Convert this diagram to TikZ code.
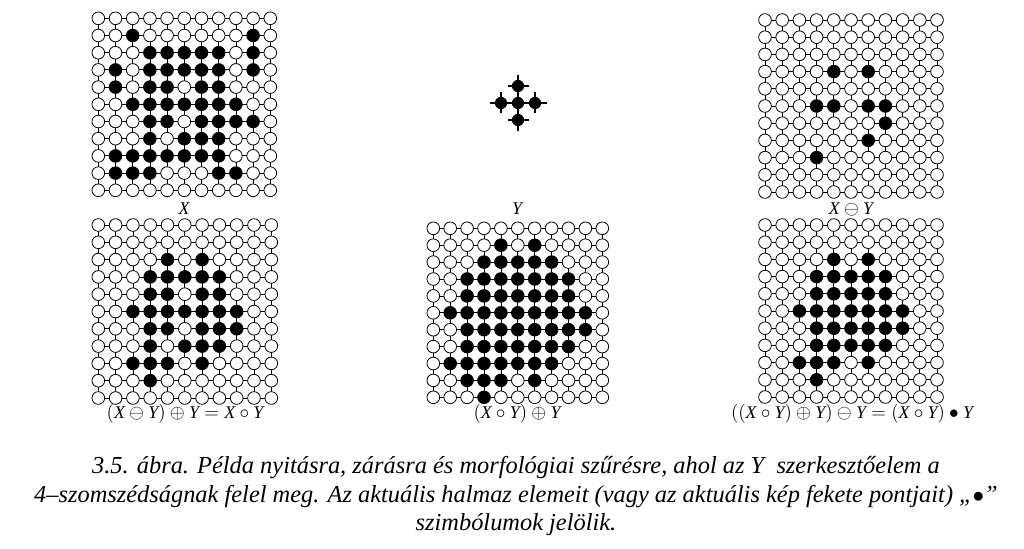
\documentclass[tikz,border=0pt]{standalone}
\usepackage{fontspec}
\setmainfont{Liberation Serif}
\usepackage{amsmath}

% 11x11 pontracs: bal felso kozeppont (#1,#2), lepes #3
\newcommand{\racs}[3]{%
  \foreach \kk in {0,...,10} {
    \draw[racsvonal] (#1,#2+\kk*#3) -- (#1+10*#3,#2+\kk*#3);
    \draw[racsvonal] (#1+\kk*#3,#2) -- (#1+\kk*#3,#2+10*#3);
  }
  \foreach \sor in {0,...,10}
    \foreach \osz in {0,...,10}
      \draw[ures] (#1+\osz*#3,#2+\sor*#3) circle (4.75pt);
}
% fekete pontok: sor/oszlop lista
\newcommand{\pontok}[4]{%
  \foreach \sor/\osz in {#4}
    \fill[teli] (#1+\osz*#3,#2+\sor*#3) circle (4.75pt);
}

\begin{document}
\begin{tikzpicture}[x=0.75pt,y=0.75pt,yscale=-1,xscale=1,
  racsvonal/.style={line width=0.6pt},
  ures/.style={draw,fill=white,line width=0.6pt},
  teli/.style={fill=black},
  elem/.style={line width=1.4pt},
  cimke/.style={font=\fontsize{13.4}{16}\selectfont,inner sep=0.75pt},
  felirat/.style={font=\fontsize{18.3}{21.5}\selectfont\itshape,align=center,inner sep=0pt}]
\path[use as bounding box] (0,0) rectangle (1024,549);

%Shape: Grid X
\racs{98.3}{18.3}{17.2}
\pontok{98.3}{18.3}{17.2}{1/2,1/9,2/3,2/4,2/5,2/6,2/7,2/9,3/1,3/3,3/4,3/5,3/6,3/7,3/9,4/1,4/3,4/4,4/6,4/7,5/2,5/3,5/4,5/5,5/6,5/7,5/8,6/3,6/4,6/6,6/7,6/8,6/9,7/3,7/5,7/6,7/7,8/1,8/2,8/3,8/4,8/5,8/6,8/7,9/1,9/2,9/3,9/7,9/8}

%Shape: Structuring element Y
\draw[elem] (518,75) -- (518,131.5) ;
\draw[elem] (490,103) -- (546.5,103) ;
\draw[elem] (507.5,86) -- (528.5,86) ;
\draw[elem] (507.5,120) -- (528.5,120) ;
\draw[elem] (501,92.5) -- (501,113.5) ;
\draw[elem] (535,92.5) -- (535,113.5) ;
\foreach \p in {(518,103),(518,86),(518,120),(501,103),(535,103)}
  \fill[teli] \p circle (4.6pt);

%Shape: Grid X erosion Y
\racs{765}{20}{17.2}
\pontok{765}{20}{17.2}{3/4,3/6,5/3,5/4,5/6,5/7,6/7,7/6,8/3}

%Shape: Grid opening
\racs{98.3}{225}{17.3}
\pontok{98.3}{225}{17.3}{2/4,2/6,3/3,3/4,3/5,3/6,3/7,4/3,4/4,4/6,4/7,5/2,5/3,5/4,5/5,5/6,5/7,5/8,6/3,6/4,6/6,6/7,6/8,7/3,7/5,7/6,7/7,8/2,8/3,8/4,8/6,9/3}

%Shape: Grid opening dilated
\racs{433.3}{228.3}{16.9}
\pontok{433.3}{228.3}{16.9}{1/4,1/6,2/3,2/4,2/5,2/6,2/7,3/2,3/3,3/4,3/5,3/6,3/7,3/8,4/2,4/3,4/4,4/5,4/6,4/7,4/8,5/1,5/2,5/3,5/4,5/5,5/6,5/7,5/8,5/9,6/2,6/3,6/4,6/5,6/6,6/7,6/8,6/9,7/2,7/3,7/4,7/5,7/6,7/7,7/8,8/1,8/2,8/3,8/4,8/5,8/6,8/7,9/2,9/3,9/4,9/6,10/3}

%Shape: Grid closing
\racs{765}{225}{17.2}
\pontok{765}{225}{17.2}{2/4,2/6,3/3,3/4,3/5,3/6,3/7,4/3,4/4,4/5,4/6,4/7,5/2,5/3,5/4,5/5,5/6,5/7,5/8,6/3,6/4,6/5,6/6,6/7,6/8,7/3,7/4,7/5,7/6,7/7,8/2,8/3,8/4,8/6,9/3}

% Text Node
\node[cimke] (lx) at (184,209) {$\mathit{X}$};
% Text Node
\node[cimke] (ly) at (517,209) {$\mathit{Y}$};
% Text Node
\node[cimke] (lero) at (851,209) {$\mathit{X}\ominus\mathit{Y}$};
% Text Node
\node[cimke] (lnyit) at (185,414) {$(\mathit{X}\ominus\mathit{Y})\oplus\mathit{Y}=\mathit{X}\circ\mathit{Y}$};
% Text Node
\node[cimke] (ldil) at (517,414) {$(\mathit{X}\circ\mathit{Y})\oplus\mathit{Y}$};
% Text Node
\node[cimke] (lzar) at (852,414) {$((\mathit{X}\circ\mathit{Y})\oplus\mathit{Y})\ominus\mathit{Y}=(\mathit{X}\circ\mathit{Y})\bullet\mathit{Y}$};

% Caption
\node[felirat] (abra) at (516,496) {3.5. ábra. Példa nyitásra, zárásra és morfológiai szűrésre, ahol az Y\ \ szerkesztőelem a\\
4–szomszédságnak felel meg. Az aktuális halmaz elemeit (vagy az aktuális kép fekete pontjait) „$\bullet$”\\
szimbólumok jelölik.};

\end{tikzpicture}
\end{document}
